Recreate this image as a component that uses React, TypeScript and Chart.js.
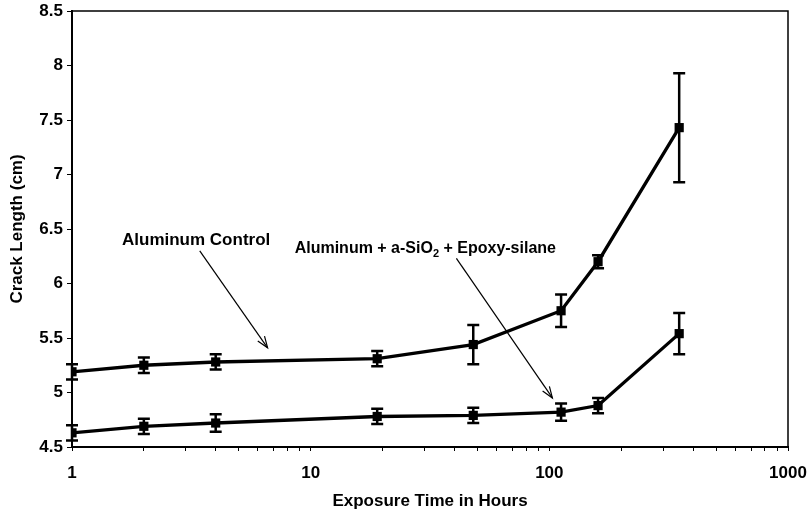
import React, { useEffect, useRef } from "react";
import { Chart, registerables } from "chart.js";

Chart.register(...registerables);

// ---- data ----
const hours = [1, 2, 4, 19, 48, 112, 160, 350];
const controlMean = [5.19, 5.25, 5.28, 5.31, 5.44, 5.75, 6.2, 7.43];
const controlErr = [0.07, 0.07, 0.07, 0.07, 0.18, 0.15, 0.06, 0.5];
const coatedMean = [4.63, 4.69, 4.72, 4.78, 4.79, 4.82, 4.88, 5.54];
const coatedErr = [0.07, 0.07, 0.08, 0.07, 0.07, 0.08, 0.07, 0.19];
const yTickValues = [4.5, 5, 5.5, 6, 6.5, 7, 7.5, 8, 8.5];
const xMajorTicks = [1, 10, 100, 1000];
const xTitle = "Exposure Time in Hours";
const yTitle = "Crack Length (cm)";
const controlLabel = "Aluminum Control";
const coatedLabelParts = ["Aluminum + a-SiO", "2", " + Epoxy-silane"];

const FONT = '"Liberation Sans", Arial, Helvetica, sans-serif';
const FS = 17;

// annotation anchors in data units (hours, cm)
const controlText = { x: 1.62, y: 6.4 };
const controlArrow = { x1: 3.43, y1: 6.3, x2: 6.6, y2: 5.41 };
const coatedText = { x: 8.57, y: 6.32 };
const coatedArrow = { x1: 40.8, y1: 6.23, x2: 103, y2: 4.95 };

function drawArrow(ctx: CanvasRenderingContext2D, x1: number, y1: number, x2: number, y2: number) {
  ctx.beginPath();
  ctx.moveTo(x1, y1);
  ctx.lineTo(x2, y2);
  ctx.stroke();
  const ang = Math.atan2(y2 - y1, x2 - x1);
  const L = 12;
  const spread = 0.35;
  ctx.beginPath();
  ctx.moveTo(x2 - L * Math.cos(ang - spread), y2 - L * Math.sin(ang - spread));
  ctx.lineTo(x2, y2);
  ctx.lineTo(x2 - L * Math.cos(ang + spread), y2 - L * Math.sin(ang + spread));
  ctx.stroke();
}

const overlayPlugin = {
  id: "overlay",
  afterDatasetsDraw(chart: any) {
    const { ctx, chartArea: a } = chart;
    const x = chart.scales.x;
    const y = chart.scales.y;
    ctx.save();
    // error bars
    ctx.strokeStyle = "#000";
    ctx.lineWidth = 2.5;
    const sets: [number[], number[]][] = [
      [controlMean, controlErr],
      [coatedMean, coatedErr],
    ];
    sets.forEach(([m, e]) => {
      hours.forEach((h, i) => {
        const px = x.getPixelForValue(h);
        const top = y.getPixelForValue(m[i] + e[i]);
        const bot = y.getPixelForValue(m[i] - e[i]);
        ctx.beginPath();
        ctx.moveTo(px, top);
        ctx.lineTo(px, bot);
        ctx.moveTo(px - 6, top);
        ctx.lineTo(px + 6, top);
        ctx.moveTo(px - 6, bot);
        ctx.lineTo(px + 6, bot);
        ctx.stroke();
      });
    });
    // frame top/right
    ctx.lineWidth = 1.5;
    ctx.beginPath();
    ctx.moveTo(a.left, a.top);
    ctx.lineTo(a.right, a.top);
    ctx.lineTo(a.right, a.bottom);
    ctx.stroke();

    // annotations
    ctx.fillStyle = "#000";
    ctx.textBaseline = "middle";
    ctx.textAlign = "left";
    ctx.font = `bold ${FS}px ${FONT}`;
    ctx.fillText(controlLabel, x.getPixelForValue(controlText.x), y.getPixelForValue(controlText.y));

    const fs2 = 16;
    let tx = x.getPixelForValue(coatedText.x);
    const ty = y.getPixelForValue(coatedText.y);
    ctx.font = `bold ${fs2}px ${FONT}`;
    ctx.fillText(coatedLabelParts[0], tx, ty);
    tx += ctx.measureText(coatedLabelParts[0]).width;
    ctx.font = `bold ${Math.round(fs2 * 0.7)}px ${FONT}`;
    ctx.fillText(coatedLabelParts[1], tx, ty + 5);
    tx += ctx.measureText(coatedLabelParts[1]).width;
    ctx.font = `bold ${fs2}px ${FONT}`;
    ctx.fillText(coatedLabelParts[2], tx, ty);

    ctx.lineWidth = 1.2;
    [controlArrow, coatedArrow].forEach((ar) => {
      drawArrow(
        ctx,
        x.getPixelForValue(ar.x1),
        y.getPixelForValue(ar.y1),
        x.getPixelForValue(ar.x2),
        y.getPixelForValue(ar.y2)
      );
    });
    ctx.restore();
  },
};

export default function App() {
  const ref = useRef<HTMLCanvasElement | null>(null);
  useEffect(() => {
    if (!ref.current) return;
    const xTickList: number[] = [];
    for (let d = 0; d < xMajorTicks.length - 1; d++) {
      for (let m = 1; m < 10; m++) xTickList.push(xMajorTicks[d] * m);
    }
    xTickList.push(xMajorTicks[xMajorTicks.length - 1]);

    const lineDs = (means: number[]) => ({
      data: hours.map((h, i) => ({ x: h, y: means[i] })),
      borderColor: "#000",
      backgroundColor: "#000",
      borderWidth: 3.3,
      pointStyle: "rect",
      pointRadius: 6.5,
      pointBackgroundColor: "#000",
      pointBorderColor: "#000",
      pointBorderWidth: 0,
      tension: 0,
      fill: false,
    });

    const chart = new Chart(ref.current, {
      type: "line",
      data: { datasets: [lineDs(controlMean), lineDs(coatedMean)] as any },
      options: {
        animation: false,
        responsive: false,
        devicePixelRatio: 1,
        layout: { padding: { top: 11, right: 22, left: 0, bottom: 0 } },
        plugins: { legend: { display: false }, tooltip: { enabled: false } },
        scales: {
          x: {
            type: "logarithmic",
            min: 1,
            max: 1000,
            position: "bottom",
            afterBuildTicks: (s: any) => {
              s.ticks = xTickList.map((v) => ({ value: v }));
            },
            afterFit: (s: any) => {
              s.height = 68;
              s.paddingLeft = 0;
              s.paddingRight = 0;
            },
            grid: { drawOnChartArea: false, drawTicks: true, tickLength: 4, tickColor: "#000", tickWidth: 1 },
            border: { display: true, color: "#000", width: 2 },
            ticks: {
              autoSkip: false,
              maxRotation: 0,
              minRotation: 0,
              padding: 12,
              color: "#000",
              font: { family: FONT, size: FS, weight: "bold" },
              callback: (v: any) => (xMajorTicks.includes(Number(v)) ? String(v) : ""),
            },
            title: {
              display: true,
              text: xTitle,
              color: "#000",
              font: { family: FONT, size: FS, weight: "bold" },
              padding: 3,
            },
          },
          y: {
            type: "linear",
            min: 4.5,
            max: 8.5,
            afterBuildTicks: (s: any) => {
              s.ticks = yTickValues.map((v) => ({ value: v }));
            },
            afterFit: (s: any) => {
              s.width = 72;
              s.paddingTop = 0;
              s.paddingBottom = 0;
            },
            grid: { drawOnChartArea: false, drawTicks: true, tickLength: 5, tickColor: "#000", tickWidth: 1 },
            border: { display: true, color: "#000", width: 2 },
            ticks: {
              padding: 4,
              color: "#000",
              font: { family: FONT, size: FS, weight: "bold" },
              callback: (v: any) => String(v),
            },
            title: {
              display: true,
              text: yTitle,
              color: "#000",
              font: { family: FONT, size: FS, weight: "bold" },
              padding: 7,
            },
          },
        },
      } as any,
      plugins: [overlayPlugin],
    });
    return () => chart.destroy();
  }, []);

  return (
    <div style={{ position: "fixed", left: 0, top: 0, width: 810, height: 515, background: "#fff" }}>
      <canvas ref={ref} width={810} height={515} style={{ width: 810, height: 515, display: "block" }} />
    </div>
  );
}
